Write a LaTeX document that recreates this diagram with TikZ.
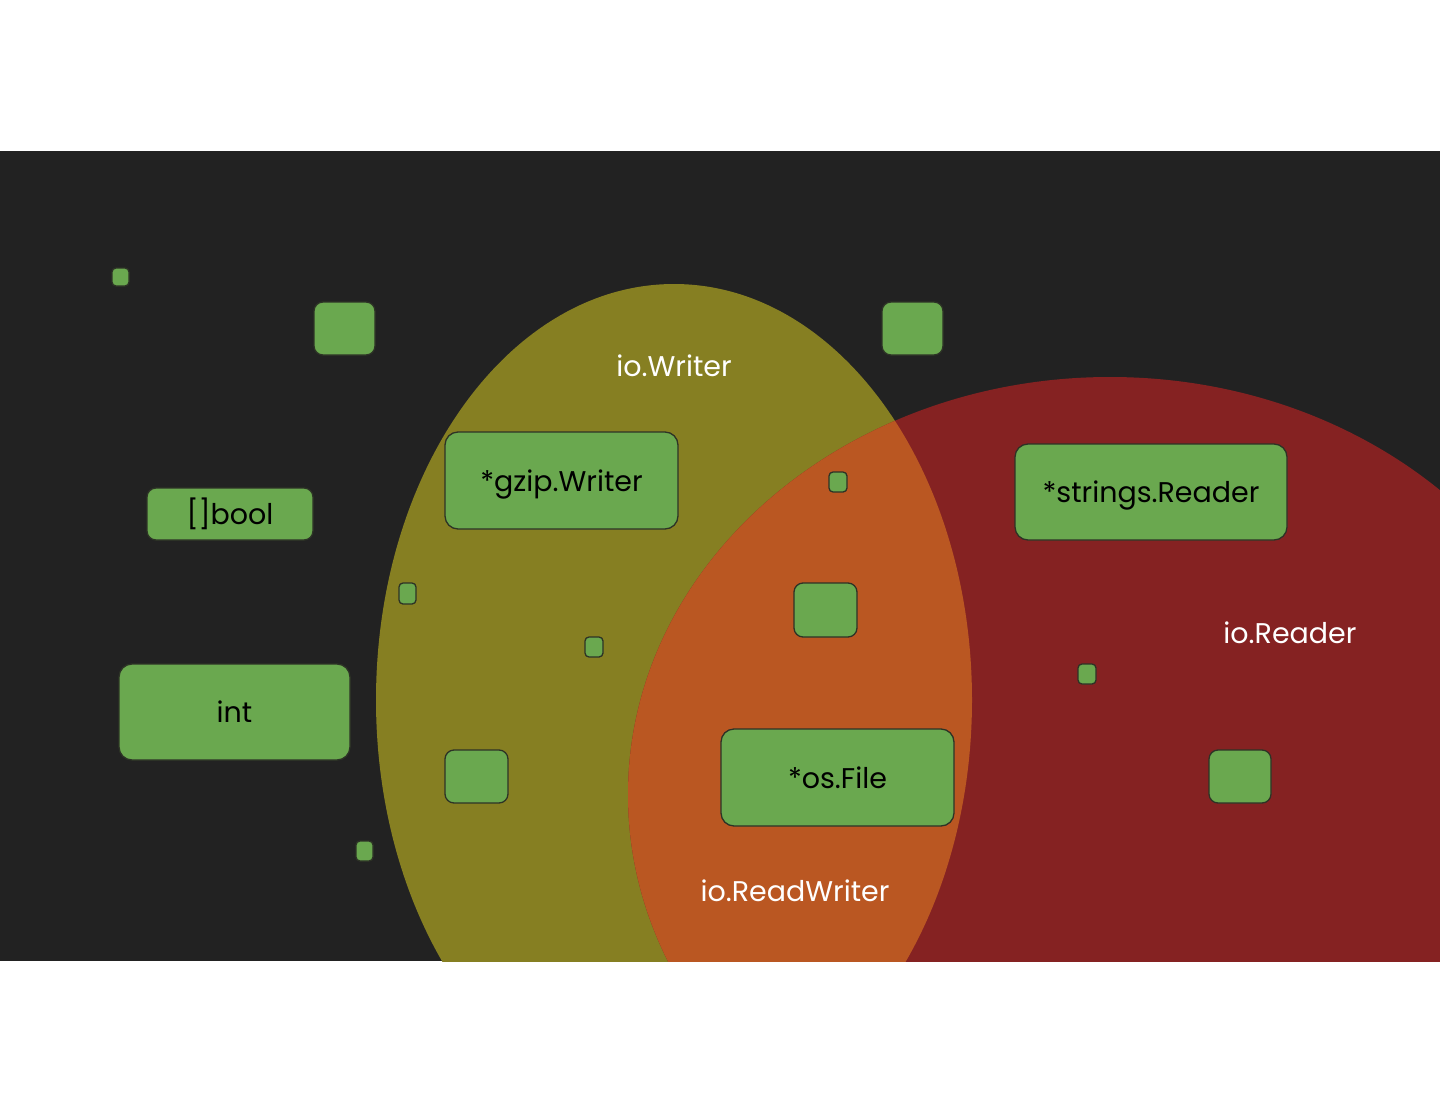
\documentclass[tikz,border=0pt]{standalone}
\usepackage{fontspec}
\setmainfont{Poppins}
\definecolor{bgdark}{HTML}{222222}
\definecolor{ywr}{HTML}{867F22}
\definecolor{rrd}{HTML}{852222}
\definecolor{orw}{HTML}{BA5722}
\definecolor{gbox}{HTML}{6AA84F}
\definecolor{gline}{HTML}{2D3326}
\tikzset{
  tbox/.style={draw=gline, line width=1.3pt, fill=gbox, rounded corners=13pt, inner sep=0pt, text height=24pt, text depth=3pt, font=\fontsize{28.5}{30}\selectfont, text=black},
  sbox/.style={draw=gline, line width=1.3pt, fill=gbox, rounded corners=4pt, inner sep=0pt},
  mbox/.style={draw=gline, line width=1.3pt, fill=gbox, rounded corners=9pt, inner sep=0pt},
  setlbl/.style={text=white, font=\fontsize{28.5}{30}\selectfont, inner sep=0pt}
}
\begin{document}
\begin{tikzpicture}[x=1pt,y=-1pt]
\useasboundingbox (0,0) rectangle (1440,1113);
\fill[white] (0,0) rectangle (1440,1113);
\fill[bgdark] (0,151) rectangle (1440,961);
\begin{scope}
  \clip (0,151) rectangle (1440,961);
  \fill[ywr] (674,700) ellipse [x radius=298, y radius=416];
  \fill[rrd] (1110,794.6) ellipse [x radius=482, y radius=417.6];
  \begin{scope}
    \clip (1110,794.6) ellipse [x radius=482, y radius=417.6];
    \fill[orw] (674,700) ellipse [x radius=298, y radius=416];
  \end{scope}
\end{scope}
% labels of sets
\node[setlbl] (lw) at (674,366) {io.Writer};
\node[setlbl] (lr) at (1290,633) {io.Reader};
\node[setlbl] (lrw) at (795,891) {io.ReadWriter};
% small boxes
\node[sbox, minimum width=17pt, minimum height=18pt] (s1) at (120.5,277) {};
\node[sbox, minimum width=18pt, minimum height=20pt] (s2) at (838,482) {};
\node[sbox, minimum width=17pt, minimum height=21pt] (s3) at (407.5,593.5) {};
\node[sbox, minimum width=18pt, minimum height=20pt] (s4) at (594,647) {};
\node[sbox, minimum width=18pt, minimum height=20pt] (s5) at (1087,674) {};
\node[sbox, minimum width=17pt, minimum height=20pt] (s6) at (364.5,851) {};
% medium boxes
\node[mbox, minimum width=61pt, minimum height=53pt] (m1) at (344.5,328.5) {};
\node[mbox, minimum width=61pt, minimum height=53pt] (m2) at (912.5,328.5) {};
\node[mbox, minimum width=63pt, minimum height=54pt] (m3) at (825.5,610) {};
\node[mbox, minimum width=63pt, minimum height=53pt] (m4) at (476.5,776.5) {};
\node[mbox, minimum width=62pt, minimum height=53pt] (m5) at (1240,776.5) {};
% text boxes
\node[tbox, rounded corners=9pt, minimum width=166pt, minimum height=52pt] (bool) at (230,514) {[]bool};
\node[tbox, minimum width=233pt, minimum height=97pt] (gzip) at (561.5,480.5) {*gzip.Writer};
\node[tbox, minimum width=272pt, minimum height=96pt] (strr) at (1151,492) {*strings.Reader};
\node[tbox, minimum width=231pt, minimum height=96pt] (int) at (234.5,712) {int};
\node[tbox, minimum width=233pt, minimum height=97pt] (osf) at (837.5,777.5) {*os.File};
\end{tikzpicture}
\end{document}
